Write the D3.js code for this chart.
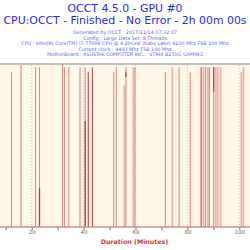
<!DOCTYPE html>
<html><head><meta charset="utf-8">
<script src="https://cdn.jsdelivr.net/npm/d3@7"></script>
<style>html,body{margin:0;padding:0;background:#fff;}svg{display:block;}</style>
</head><body>
<svg id="c" width="250" height="250"></svg>
<script>
// Header texts
const titleLines = ["OCCT 4.5.0 - GPU #0", "CPU:OCCT - Finished - No Error - 2h 00m 00s"];
const infoLines = [
  "Generated by OCCT : 2017/11/14 07:32:07",
  "Config : Large Data Set, 8 Threads",
  "CPU : Intel(R) Core(TM) i7-7700K CPU @ 4.20GHz (Kaby Lake) 4200 Mhz FSB 100 Mhz",
  "Current clock : 4493 Mhz FSB 100 Mhz",
  "MotherBoard : ASUSTeK COMPUTER INC. : STRIX B250G GAMING"
];
const xTitle = "Duration (Minutes)";
const xTickValues = [10, 20, 30, 40, 50, 60, 70, 80, 90, 100];
const xLabelValues = [20, 40, 60, 80, 100];

// Event lines: minute, top value (0-100), intensity
const eventMinutes = [12.2, 15.9, 21.5, 23.0, 31.9, 32.6, 34.3, 38.6, 40.6, 41.8, 43.4, 51.6, 52.6, 55.7, 56.3, 59.2, 59.8, 71.5, 74.2, 76.8, 81.1, 85.3, 86.2, 87.0, 87.9, 88.5, 90.1, 90.9, 91.7, 92.8, 100.8, 101.6];
const eventTops    = [95, 100, 98, 98, 100, 98, 98, 98, 98, 95, 98, 95, 98, 87, 98, 98, 98, 95, 98, 98, 95, 98, 98, 98, 98, 98, 98, 98, 98, 98, 95, 98];
const eventLevels  = ["m","l","m","m","m","m","m","l","m","d","d","m","m","l","m","l","m","m","l","m","m","d","l","m","l","m","m","l","l","l","l","l"];
// Darker overlay segments: minute, bottom value, top value
const overlayMinutes = [23.0, 40.6, 56.3, 90.1];
const overlayBottoms = [0, 0, 92, 83];
const overlayTops    = [24, 65, 95, 98];

const plotTop = 64, plotBottom = 227, plotLeft = 0, plotRight = 250;
const svg = d3.select("#c");

const x = d3.scaleLinear().domain([0, 100]).range([-20.2, 239.3]);
const y = d3.scaleLinear().domain([0, 100]).range([plotBottom, plotTop]);

svg.append("rect").attr("x", plotLeft).attr("y", plotTop).attr("width", plotRight - plotLeft).attr("height", plotBottom - plotTop).attr("fill", "#fff8e8");
svg.append("line").attr("x1", plotLeft).attr("x2", plotRight).attr("y1", plotTop).attr("y2", plotTop).attr("stroke", "#c4c0bc").attr("stroke-width", 2);

// grid
svg.append("g").selectAll("line").data(xLabelValues).join("line")
  .attr("x1", d => x(d)).attr("x2", d => x(d)).attr("y1", plotTop + 1).attr("y2", plotBottom)
  .attr("stroke", "#c8c0b8").attr("stroke-width", 1).attr("stroke-dasharray", "1,2");

const colors = {l: "#eab4aa", m: "#dc8c86", d: "#c84444"};
const widths = {l: 1.8, m: 1.1, d: 1.1};
const events = eventMinutes.map((m, i) => ({m, top: eventTops[i], lv: eventLevels[i]}));
svg.append("g").selectAll("line").data(events).join("line")
  .attr("x1", d => x(d.m)).attr("x2", d => x(d.m)).attr("y1", plotBottom).attr("y2", d => y(d.top))
  .attr("stroke", d => colors[d.lv]).attr("stroke-width", d => widths[d.lv]);
const overlays = overlayMinutes.map((m, i) => ({m, b: overlayBottoms[i], t: overlayTops[i]}));
svg.append("g").selectAll("line").data(overlays).join("line")
  .attr("x1", d => x(d.m)).attr("x2", d => x(d.m)).attr("y1", d => y(d.b)).attr("y2", d => y(d.t))
  .attr("stroke", "#c04040").attr("stroke-width", 1.3);

// axis
const axis = d3.axisBottom(x).tickValues(xTickValues).tickSize(3)
  .tickFormat(d => xLabelValues.includes(d) ? d : "");
const ag = svg.append("g").attr("transform", `translate(0,${plotBottom})`).call(axis);
ag.select(".domain").remove();
ag.selectAll(".tick line").attr("stroke", "#806060");
ag.selectAll(".tick text").attr("fill", "#666").attr("font-size", 5.5).attr("font-family", "DejaVu Sans").attr("dy", "0.2em");
svg.append("line").attr("x1", plotLeft).attr("x2", plotRight).attr("y1", plotBottom).attr("y2", plotBottom).attr("stroke", "#c89090").attr("stroke-width", 1.4);

svg.append("text").attr("x", 134.5).attr("y", 244).attr("text-anchor", "middle")
  .attr("font-family", "DejaVu Sans").attr("font-weight", "bold").attr("font-size", 6.3).attr("fill", "#c84040").text(xTitle);

// titles
const titleY = [12, 23.5], titleSize = [10.9, 10.9];
titleLines.forEach((t, i) => {
  svg.append("text").attr("x", 125).attr("y", titleY[i]).attr("text-anchor", "middle")
    .attr("font-family", "DejaVu Sans").attr("font-size", titleSize[i]).attr("fill", "#2828f0").text(t);
});
const infoY = [34, 39.5, 45, 50.5, 56];
infoLines.forEach((t, i) => {
  svg.append("text").attr("x", 125).attr("y", infoY[i]).attr("text-anchor", "middle")
    .attr("font-family", "DejaVu Sans").attr("font-size", 4.85).attr("fill", "#6464f0").text(t);
});
</script>
</body></html>
